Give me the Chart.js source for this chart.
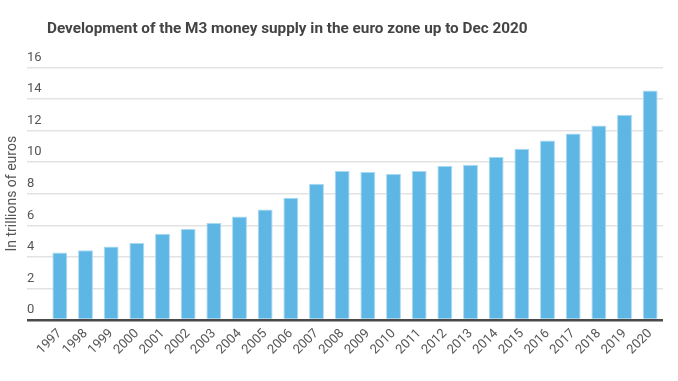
<!DOCTYPE html>
<html>
<head>
<meta charset="utf-8">
<script src="https://cdn.jsdelivr.net/npm/chart.js@4"></script>
<style>
  html, body { margin: 0; padding: 0; background: #fff; }
  #wrap { width: 678px; height: 381px; }
</style>
</head>
<body>
<div id="wrap"><canvas id="m3Chart" width="678" height="381"></canvas></div>
<script>
// Data
const years = ['1997', '1998', '1999', '2000', '2001', '2002', '2003', '2004', '2005', '2006', '2007', '2008',
               '2009', '2010', '2011', '2012', '2013', '2014', '2015', '2016', '2017', '2018', '2019', '2020'];
const m3Values = [4.27, 4.42, 4.65, 4.87, 5.46, 5.76, 6.14, 6.56, 7.0, 7.75, 8.63, 9.44,
                  9.38, 9.25, 9.44, 9.76, 9.84, 10.33, 10.84, 11.37, 11.81, 12.32, 13.0, 14.54];
const yTicks = [0, 2, 4, 6, 8, 10, 12, 14, 16];

const ctx = document.getElementById('m3Chart').getContext('2d');
const m3Chart = new Chart(ctx, {
    type: 'bar',
    data: {
        labels: years,
        datasets: [
            {
                label: 'M3',
                data: m3Values,
                backgroundColor: '#5db6e4',
                borderColor: '#a9d9f1',
                borderWidth: 1,
                categoryPercentage: 1,
                barPercentage: 0.58
            }
        ]
    },
    options: {
        responsive: false,
        animation: false,
        layout: { padding: { left: 0, right: 15, top: 0, bottom: 0 } },
        plugins: {
            legend: { display: false },
            tooltip: { enabled: false },
            title: {
                display: true,
                text: 'Development of the M3 money supply in the euro zone up to Dec 2020',
                align: 'start',
                fullSize: false,
                color: '#444444',
                font: { family: 'Roboto', size: 15.3, weight: 'bold' },
                padding: { top: 20, bottom: 29 }
            }
        },
        scales: {
            x: {
                grid: { display: false, drawTicks: false },
                border: { display: false },
                ticks: {
                    autoSkip: false,
                    color: '#555555',
                    font: { family: 'Roboto', size: 13 },
                    maxRotation: 45,
                    minRotation: 45,
                    padding: 6
                },
                afterFit: function (scale) { scale.height = 61; }
            },
            y: {
                min: 0,
                max: 16,
                afterBuildTicks: function (scale) {
                    scale.ticks = yTicks.map(v => ({ value: v }));
                },
                grid: {
                    color: c => (c.tick && c.tick.value === 0) ? '#4a4a4a' : '#e3e3e3',
                    lineWidth: c => (c.tick && c.tick.value === 0) ? 2.5 : 1.5,
                    tickLength: 20
                },
                border: { display: false },
                ticks: {
                    mirror: true,
                    padding: -20,
                    labelOffset: -10,
                    color: '#555555',
                    font: { family: 'Roboto', size: 13 }
                },
                title: {
                    display: true,
                    text: 'In trillions of euros',
                    color: '#555555',
                    font: { family: 'Roboto', size: 14 },
                    padding: { top: 4, bottom: 4 }
                },
                afterFit: function (scale) { scale.width = 47; }
            }
        }
    }
});
</script>
</body>
</html>
